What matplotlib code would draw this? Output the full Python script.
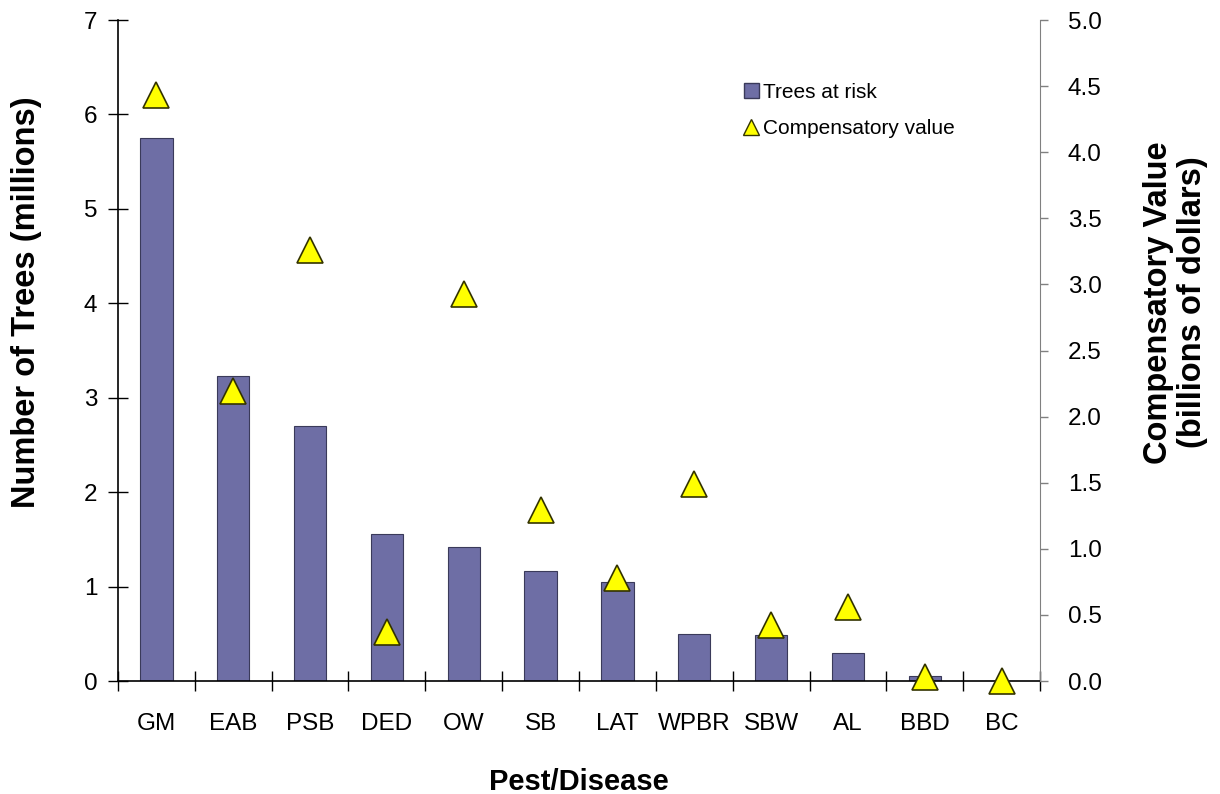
import numpy as np
import matplotlib
matplotlib.use("Agg")
import matplotlib.pyplot as plt
from matplotlib.lines import Line2D
from matplotlib.patches import Patch

plt.rcParams["font.family"] = ["Liberation Sans", "DejaVu Sans"]

# Pest / disease codes
pests = ["GM", "EAB", "PSB", "DED", "OW", "SB", "LAT", "WPBR", "SBW", "AL", "BBD", "BC"]
# Trees at risk (millions)
trees_at_risk = [5.75, 3.23, 2.70, 1.56, 1.42, 1.16, 1.05, 0.50, 0.49, 0.30, 0.05, 0.0]
# Compensatory value (billions of dollars)
comp_value = [4.43, 2.19, 3.26, 0.37, 2.93, 1.29, 0.78, 1.49, 0.42, 0.56, 0.03, 0.0]

bar_color = "#6E6EA5"
tri_color = "#FFFF00"

fig = plt.figure(figsize=(12.2, 7.94), dpi=100)
ax = fig.add_axes([0.0967, 0.1423, 0.7558, 0.8325])

x = np.arange(len(pests))
ax.bar(x, trees_at_risk, width=0.42, color=bar_color, edgecolor="#3a3a5a",
       linewidth=0.8, zorder=2)

ax.set_xlim(-0.5, len(pests) - 0.5)
ax.set_ylim(0, 7)
ax.set_yticks(range(0, 8))
ax.set_xticks(x)
ax.set_xticklabels(pests, fontsize=17.5)
ax.set_xticks(np.arange(-0.5, len(pests), 1.0), minor=True)
ax.tick_params(axis="x", which="major", length=0, pad=23)
ax.tick_params(axis="x", which="minor", direction="inout", length=14, width=1)
ax.tick_params(axis="y", direction="inout", length=14, width=1, labelsize=17.5, pad=8)

for side in ["top", "right"]:
    ax.spines[side].set_visible(False)
ax.spines["left"].set_linewidth(1.2)
ax.spines["bottom"].set_linewidth(1.2)

ax.set_xlabel("Pest/Disease", fontsize=21, fontweight="bold", labelpad=24)
ax.set_ylabel("Number of Trees (millions)", fontsize=23.5, fontweight="bold")
ax.yaxis.set_label_coords(-0.082, 0.573)

# secondary axis for compensatory value
ax2 = ax.twinx()
ax2.plot(x, comp_value, linestyle="none", marker="^", markersize=19,
         markerfacecolor=tri_color, markeredgecolor="#333300",
         markeredgewidth=1.2, zorder=3, clip_on=False)
ax2.set_ylim(0, 5)
ax2.set_yticks(np.arange(0, 5.01, 0.5))
ax2.set_yticklabels([f"{v:.1f}" for v in np.arange(0, 5.01, 0.5)])
ax2.tick_params(axis="y", direction="out", length=6, width=1, colors="#808080",
                labelcolor="black", labelsize=17.5, pad=14)
for side in ["top", "left", "bottom"]:
    ax2.spines[side].set_visible(False)
ax2.spines["right"].set_color("#808080")
ax2.set_ylabel("Compensatory Value\n(billions of dollars)", fontsize=23.5,
               fontweight="bold", linespacing=1.1)
ax2.yaxis.set_label_coords(1.112, 0.573)

handles = [
    Patch(facecolor=bar_color, edgecolor="#3a3a5a", label="Trees at risk"),
    Line2D([], [], linestyle="none", marker="^", markersize=11,
           markerfacecolor=tri_color, markeredgecolor="#333300",
           label="Compensatory value"),
]
ax2.legend(handles=handles, loc="upper left", bbox_to_anchor=(0.670, 0.918),
           frameon=False, fontsize=15, handlelength=0.7, handletextpad=0.2,
           labelspacing=0.85, borderaxespad=0)

fig.savefig("out.png", dpi=100)
